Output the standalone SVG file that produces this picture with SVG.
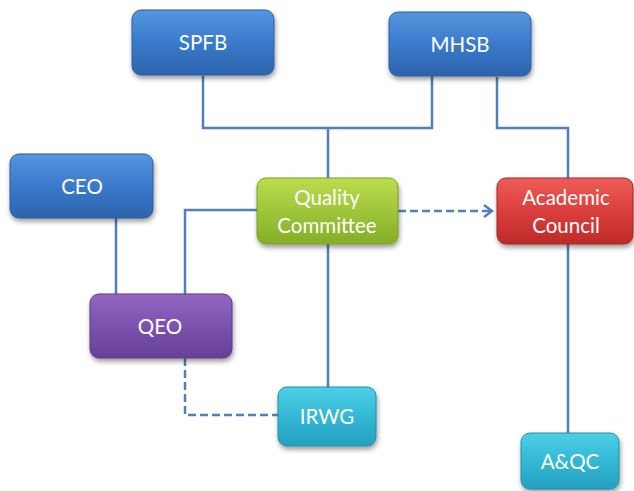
<svg xmlns="http://www.w3.org/2000/svg" width="634" height="491" viewBox="0 0 634 491">
<defs>
<linearGradient id="gBlue" x1="0" y1="0" x2="0" y2="1"><stop offset="0" stop-color="#5596de"/><stop offset="0.5" stop-color="#3a7acb"/><stop offset="1" stop-color="#2c63ad"/></linearGradient>
<linearGradient id="gGreen" x1="0" y1="0" x2="0" y2="1"><stop offset="0" stop-color="#bcdc4e"/><stop offset="0.5" stop-color="#9fc63a"/><stop offset="1" stop-color="#84ad28"/></linearGradient>
<linearGradient id="gRed" x1="0" y1="0" x2="0" y2="1"><stop offset="0" stop-color="#ee5c58"/><stop offset="0.5" stop-color="#da3f3c"/><stop offset="1" stop-color="#bf2a28"/></linearGradient>
<linearGradient id="gPurple" x1="0" y1="0" x2="0" y2="1"><stop offset="0" stop-color="#9466c2"/><stop offset="0.5" stop-color="#7b52ae"/><stop offset="1" stop-color="#663f97"/></linearGradient>
<linearGradient id="gCyan" x1="0" y1="0" x2="0" y2="1"><stop offset="0" stop-color="#4fcfe6"/><stop offset="0.5" stop-color="#33b8d6"/><stop offset="1" stop-color="#259fbf"/></linearGradient>
<filter id="sh" x="-10%" y="-10%" width="130%" height="140%"><feDropShadow dx="1" dy="3" stdDeviation="2.5" flood-color="#000" flood-opacity="0.4"/></filter>
<marker id="arr" markerWidth="12" markerHeight="14" refX="10" refY="7" orient="auto" markerUnits="userSpaceOnUse"><path d="M2,1 L10,7 L2,13" fill="none" stroke="#4f7fbd" stroke-width="2.5"/></marker>
<style>
.n rect{filter:url(#sh);stroke-width:1}
.n text{font-family:Lato,"Open Sans","Liberation Sans",sans-serif;font-size:20.5px;fill:#fff;text-anchor:middle}
.c{fill:none;stroke:#4f7fbd;stroke-width:2.5}
.d{stroke-dasharray:8,4}
</style>
</defs>
<g id="connectors">
<path class="c" d="M203,76 V128 H432 V76"/>
<path class="c" d="M328,128 V179"/>
<path class="c" d="M497,77 V128 H568 V179"/>
<path class="c" d="M116,218 V294"/>
<path class="c" d="M257,210 H185 V294"/>
<path class="c" d="M328,244 V387"/>
<path class="c d" d="M185,358 V415 H278"/>
<path class="c d" d="M398,211 H492" marker-end="url(#arr)"/>
<path class="c" d="M568,244 V433"/>
</g>
<g id="SPFB" class="n"><rect x="132" y="10" width="142" height="65" rx="9" fill="url(#gBlue)" stroke="#2d5f9e"/><text x="203" y="50">SPFB</text></g>
<g id="MHSB" class="n"><rect x="389" y="12" width="142" height="64" rx="9" fill="url(#gBlue)" stroke="#2d5f9e"/><text x="460" y="52">MHSB</text></g>
<g id="CEO" class="n"><rect x="10" y="154" width="143" height="64" rx="9" fill="url(#gBlue)" stroke="#2d5f9e"/><text x="82" y="194">CEO</text></g>
<g id="QualityCommittee" class="n"><rect x="257" y="178" width="141" height="66" rx="9" fill="url(#gGreen)" stroke="#7a9e27"/><text x="327" y="205">Quality</text><text x="327" y="233">Committee</text></g>
<g id="AcademicCouncil" class="n"><rect x="497" y="178" width="136" height="66" rx="9" fill="url(#gRed)" stroke="#a82523"/><text x="566" y="205">Academic</text><text x="566" y="233">Council</text></g>
<g id="QEO" class="n"><rect x="90" y="294" width="142" height="64" rx="9" fill="url(#gPurple)" stroke="#5b3a86"/><text x="160" y="334">QEO</text></g>
<g id="IRWG" class="n"><rect x="278" y="387" width="98" height="59" rx="9" fill="url(#gCyan)" stroke="#208fab"/><text x="327" y="424">IRWG</text></g>
<g id="AQC" class="n"><rect x="521" y="433" width="98" height="56" rx="9" fill="url(#gCyan)" stroke="#208fab"/><text x="570" y="469">A&amp;QC</text></g>
</svg>
